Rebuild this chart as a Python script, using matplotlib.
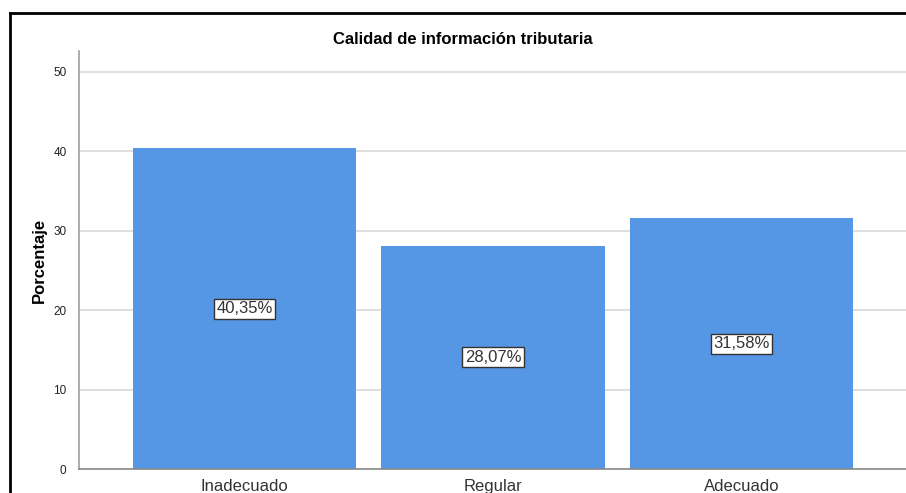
import matplotlib
matplotlib.use("Agg")
import matplotlib.pyplot as plt
from matplotlib.lines import Line2D

categories = ["Inadecuado", "Regular", "Adecuado"]
values = [40.35, 28.07, 31.58]
labels = ["40,35%", "28,07%", "31,58%"]
yticks = [0, 10, 20, 30, 40, 50]

W, H = 906, 493
fig = plt.figure(figsize=(W/100, H/100), dpi=100)
fig.patch.set_facecolor("white")
ax = fig.add_axes([79/W, 1-469/H, 1-79/W, (469-51)/H])

x = list(range(len(categories)))
ax.bar(x, values, width=0.9, color="#5596E5", edgecolor="none", zorder=2)
ax.set_xlim(-0.666, 2.662)
ax.set_ylim(0, 52.6)
ax.set_yticks(yticks)
ax.set_yticklabels([str(t) for t in yticks], fontsize=8.5, family="Liberation Sans", color="#222222")
ax.set_xticks(x)
ax.set_xticklabels(categories, fontsize=12, family="Liberation Sans", color="#333333")
ax.tick_params(axis="both", length=0)
ax.tick_params(axis="x", pad=7)
ax.tick_params(axis="y", pad=9)
ax.yaxis.grid(True, color="#D9D9D9", linewidth=1.2, zorder=0)
ax.set_axisbelow(True)
for s in ["top", "right"]:
    ax.spines[s].set_visible(False)
ax.spines["left"].set_color("#A0A0A0")
ax.spines["bottom"].set_color("#888888")
ax.spines["left"].set_linewidth(1.2)
ax.spines["bottom"].set_linewidth(1.2)

for xi, v, lab in zip(x, values, labels):
    ax.text(xi, v/2, lab, ha="center", va="center", fontsize=12, family="Liberation Sans",
            color="#333333", zorder=3,
            bbox=dict(boxstyle="square,pad=0.15", facecolor="white", edgecolor="#333333", linewidth=1))

ax.set_ylabel("Porcentaje", fontsize=12, fontweight="bold", family="Liberation Sans")
ax.yaxis.set_label_coords((47-79)/(W-79), 0.5)
fig.text(463/W, 1-39/H, "Calidad de información tributaria", ha="center", va="center",
         fontsize=12, fontweight="bold", family="Liberation Sans")

fig.add_artist(Line2D([9.5/W, 9.5/W], [0, 1-12.5/H], transform=fig.transFigure, color="black", linewidth=2))
fig.add_artist(Line2D([9.5/W, 1], [1-12.5/H, 1-12.5/H], transform=fig.transFigure, color="black", linewidth=2))

fig.savefig("out.png", dpi=100)
